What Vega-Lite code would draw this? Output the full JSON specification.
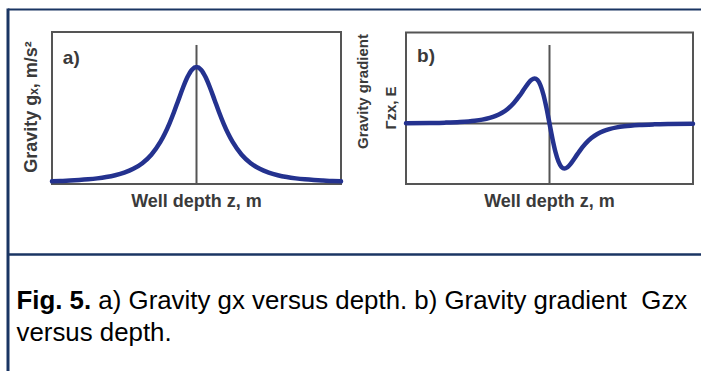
{
  "$schema": "https://vega.github.io/schema/vega-lite/v6.json",
  "width": 701,
  "height": 371,
  "autosize": {"type": "fit", "contains": "padding"},
  "padding": 0,
  "background": "white",
  "config": {"view": {"stroke": null}, "text": {"font": "Liberation Sans"}},
  "datasets": {
    "gx": [
      {"z": -4, "g": 0.0143}, {"z": -3.75, "g": 0.0171}, {"z": -3.5, "g": 0.0207}, {"z": -3.25, "g": 0.0254},
      {"z": -3, "g": 0.0316}, {"z": -2.75, "g": 0.0399}, {"z": -2.5, "g": 0.0512}, {"z": -2.25, "g": 0.067},
      {"z": -2, "g": 0.0894}, {"z": -1.75, "g": 0.122}, {"z": -1.5, "g": 0.171}, {"z": -1.25, "g": 0.244},
      {"z": -1, "g": 0.354}, {"z": -0.875, "g": 0.426}, {"z": -0.75, "g": 0.512}, {"z": -0.625, "g": 0.61},
      {"z": -0.5, "g": 0.716}, {"z": -0.375, "g": 0.821}, {"z": -0.25, "g": 0.913}, {"z": -0.125, "g": 0.977},
      {"z": 0, "g": 1},
      {"z": 0.125, "g": 0.977}, {"z": 0.25, "g": 0.913}, {"z": 0.375, "g": 0.821}, {"z": 0.5, "g": 0.716},
      {"z": 0.625, "g": 0.61}, {"z": 0.75, "g": 0.512}, {"z": 0.875, "g": 0.426}, {"z": 1, "g": 0.354},
      {"z": 1.25, "g": 0.244}, {"z": 1.5, "g": 0.171}, {"z": 1.75, "g": 0.122}, {"z": 2, "g": 0.0894},
      {"z": 2.25, "g": 0.067}, {"z": 2.5, "g": 0.0512}, {"z": 2.75, "g": 0.0399}, {"z": 3, "g": 0.0316},
      {"z": 3.25, "g": 0.0254}, {"z": 3.5, "g": 0.0207}, {"z": 3.75, "g": 0.0171}, {"z": 4, "g": 0.0143}
    ],
    "gzx": [
      {"z": -4.8, "v": 0.0059}, {"z": -4, "v": 0.0117}, {"z": -3.5, "v": 0.0191}, {"z": -3, "v": 0.0331},
      {"z": -2.5, "v": 0.0617}, {"z": -2.25, "v": 0.0869}, {"z": -2, "v": 0.125}, {"z": -1.8, "v": 0.17},
      {"z": -1.6, "v": 0.234}, {"z": -1.4, "v": 0.324}, {"z": -1.2, "v": 0.451}, {"z": -1, "v": 0.618},
      {"z": -0.9, "v": 0.7135}, {"z": -0.8, "v": 0.811}, {"z": -0.7, "v": 0.903}, {"z": -0.6, "v": 0.971},
      {"z": -0.5, "v": 1}, {"z": -0.4, "v": 0.965}, {"z": -0.3, "v": 0.845}, {"z": -0.2, "v": 0.634},
      {"z": -0.1, "v": 0.341}, {"z": 0, "v": 0},
      {"z": 0.1, "v": -0.341}, {"z": 0.2, "v": -0.634}, {"z": 0.3, "v": -0.845}, {"z": 0.4, "v": -0.965},
      {"z": 0.5, "v": -1}, {"z": 0.6, "v": -0.971}, {"z": 0.7, "v": -0.903}, {"z": 0.8, "v": -0.811},
      {"z": 0.9, "v": -0.7135}, {"z": 1, "v": -0.618}, {"z": 1.2, "v": -0.451}, {"z": 1.4, "v": -0.324},
      {"z": 1.6, "v": -0.234}, {"z": 1.8, "v": -0.17}, {"z": 2, "v": -0.125}, {"z": 2.25, "v": -0.0869},
      {"z": 2.5, "v": -0.0617}, {"z": 3, "v": -0.0331}, {"z": 3.5, "v": -0.0191}, {"z": 4, "v": -0.0117},
      {"z": 4.8, "v": -0.0059}
    ]
  },
  "layer": [
    {
      "data": {"values": [{}]},
      "layer": [
        {
          "mark": {"type": "rule", "color": "#1a3563", "strokeWidth": 3},
          "encoding": {
            "x": {"datum": 0, "type": "quantitative", "scale": {"domain": [0, 1], "range": [8, 701], "nice": false, "zero": false}, "axis": null},
            "y": {"datum": 0, "type": "quantitative", "scale": {"domain": [0, 1], "range": [371, 8.5], "nice": false, "zero": false}, "axis": null},
            "y2": {"datum": 1}
          }
        },
        {
          "mark": {"type": "rule", "color": "#1a3563", "strokeWidth": 2},
          "encoding": {
            "x": {"datum": 0, "type": "quantitative", "scale": {"domain": [0, 1], "range": [8, 701], "nice": false, "zero": false}, "axis": null},
            "x2": {"datum": 1},
            "y": {"datum": 0.99724, "type": "quantitative", "scale": {"domain": [0, 1], "range": [371, 8.5], "nice": false, "zero": false}, "axis": null}
          }
        },
        {
          "mark": {"type": "rule", "color": "#1a3563", "strokeWidth": 2.5},
          "encoding": {
            "x": {"datum": 0, "type": "quantitative", "scale": {"domain": [0, 1], "range": [8, 701], "nice": false, "zero": false}, "axis": null},
            "x2": {"datum": 1},
            "y": {"datum": 0.3214, "type": "quantitative", "scale": {"domain": [0, 1], "range": [371, 8.5], "nice": false, "zero": false}, "axis": null}
          }
        },
        {
          "mark": {"type": "text", "text": "Fig. 5.", "fontWeight": "bold", "fontSize": 25.85, "align": "left", "baseline": "alphabetic", "color": "#000000"},
          "encoding": {
            "x": {"datum": 0.01227, "type": "quantitative", "scale": {"domain": [0, 1], "range": [8, 701], "nice": false, "zero": false}, "axis": null},
            "y": {"datum": 0.171, "type": "quantitative", "scale": {"domain": [0, 1], "range": [371, 8.5], "nice": false, "zero": false}, "axis": null}
          }
        },
        {
          "mark": {"type": "text", "text": "a) Gravity gx versus depth. b) Gravity gradient\u00a0 Gzx", "fontSize": 25.85, "align": "left", "baseline": "alphabetic", "color": "#000000"},
          "encoding": {
            "x": {"datum": 0.1304, "type": "quantitative", "scale": {"domain": [0, 1], "range": [8, 701], "nice": false, "zero": false}, "axis": null},
            "y": {"datum": 0.171, "type": "quantitative", "scale": {"domain": [0, 1], "range": [371, 8.5], "nice": false, "zero": false}, "axis": null}
          }
        },
        {
          "mark": {"type": "text", "text": "versus depth.", "fontSize": 25.85, "align": "left", "baseline": "alphabetic", "color": "#000000"},
          "encoding": {
            "x": {"datum": 0.01227, "type": "quantitative", "scale": {"domain": [0, 1], "range": [8, 701], "nice": false, "zero": false}, "axis": null},
            "y": {"datum": 0.0836, "type": "quantitative", "scale": {"domain": [0, 1], "range": [371, 8.5], "nice": false, "zero": false}, "axis": null}
          }
        }
      ]
    },
    {
      "layer": [
        {
          "data": {"values": [{}]},
          "mark": {"type": "rect", "fillOpacity": 0, "stroke": "#555555", "strokeWidth": 2},
          "encoding": {
            "x": {"datum": -4, "type": "quantitative", "scale": {"domain": [-4, 4], "range": [52, 341], "nice": false, "zero": false}, "axis": null},
            "x2": {"datum": 4},
            "y": {"datum": -0.009, "type": "quantitative", "scale": {"domain": [0, 1], "range": [183, 67], "nice": false, "zero": false}, "axis": null},
            "y2": {"datum": 1.302}
          }
        },
        {
          "data": {"values": [{}]},
          "mark": {"type": "rule", "color": "#555555", "strokeWidth": 2},
          "encoding": {
            "x": {"datum": 0, "type": "quantitative", "scale": {"domain": [-4, 4], "range": [52, 341], "nice": false, "zero": false}, "axis": null},
            "y": {"datum": -0.009, "type": "quantitative", "scale": {"domain": [0, 1], "range": [183, 67], "nice": false, "zero": false}, "axis": null},
            "y2": {"datum": 1.19}
          }
        },
        {
          "data": {"name": "gx"},
          "mark": {"type": "line", "color": "#24328f", "strokeWidth": 4.5, "interpolate": "monotone", "strokeCap": "round"},
          "encoding": {
            "x": {"field": "z", "type": "quantitative", "scale": {"domain": [-4, 4], "range": [52, 341], "nice": false, "zero": false}, "axis": null},
            "y": {"field": "g", "type": "quantitative", "scale": {"domain": [0, 1], "range": [183, 67], "nice": false, "zero": false}, "axis": null}
          }
        },
        {
          "data": {"values": [{}]},
          "mark": {"type": "text", "text": "Gravity gₓ, m/s²", "fontSize": 18, "fontWeight": "bold", "angle": 270, "align": "center", "baseline": "middle", "color": "#3a3a3a"},
          "encoding": {
            "x": {"datum": -4.55, "type": "quantitative", "scale": {"domain": [-4, 4], "range": [52, 341], "nice": false, "zero": false}, "axis": null},
            "y": {"datum": 0.655, "type": "quantitative", "scale": {"domain": [0, 1], "range": [183, 67], "nice": false, "zero": false}, "axis": null}
          }
        },
        {
          "data": {"values": [{}]},
          "mark": {"type": "text", "text": "Well depth z, m", "fontSize": 18, "fontWeight": "bold", "align": "center", "baseline": "middle", "color": "#3a3a3a"},
          "encoding": {
            "x": {"datum": 0, "type": "quantitative", "scale": {"domain": [-4, 4], "range": [52, 341], "nice": false, "zero": false}, "axis": null},
            "y": {"datum": -0.164, "type": "quantitative", "scale": {"domain": [0, 1], "range": [183, 67], "nice": false, "zero": false}, "axis": null}
          }
        },
        {
          "data": {"values": [{}]},
          "mark": {"type": "text", "text": "a)", "fontSize": 19, "fontWeight": "bold", "align": "left", "baseline": "middle", "color": "#3a3a3a"},
          "encoding": {
            "x": {"datum": -3.7, "type": "quantitative", "scale": {"domain": [-4, 4], "range": [52, 341], "nice": false, "zero": false}, "axis": null},
            "y": {"datum": 1.078, "type": "quantitative", "scale": {"domain": [0, 1], "range": [183, 67], "nice": false, "zero": false}, "axis": null}
          }
        }
      ]
    },
    {
      "layer": [
        {
          "data": {"values": [{}]},
          "mark": {"type": "rect", "fillOpacity": 0, "stroke": "#555555", "strokeWidth": 2},
          "encoding": {
            "x": {"datum": -4.8, "type": "quantitative", "scale": {"domain": [-4.8, 4.8], "range": [406, 693], "nice": false, "zero": false}, "axis": null},
            "x2": {"datum": 4.8},
            "y": {"datum": -1.344, "type": "quantitative", "scale": {"domain": [0, 1], "range": [123.5, 78.5], "nice": false, "zero": false}, "axis": null},
            "y2": {"datum": 2.022}
          }
        },
        {
          "data": {"values": [{}]},
          "mark": {"type": "rule", "color": "#555555", "strokeWidth": 2},
          "encoding": {
            "x": {"datum": 0, "type": "quantitative", "scale": {"domain": [-4.8, 4.8], "range": [406, 693], "nice": false, "zero": false}, "axis": null},
            "y": {"datum": -1.344, "type": "quantitative", "scale": {"domain": [0, 1], "range": [123.5, 78.5], "nice": false, "zero": false}, "axis": null},
            "y2": {"datum": 1.744}
          }
        },
        {
          "data": {"values": [{}]},
          "mark": {"type": "rule", "color": "#555555", "strokeWidth": 2},
          "encoding": {
            "x": {"datum": -4.8, "type": "quantitative", "scale": {"domain": [-4.8, 4.8], "range": [406, 693], "nice": false, "zero": false}, "axis": null},
            "x2": {"datum": 4.8},
            "y": {"datum": 0, "type": "quantitative", "scale": {"domain": [0, 1], "range": [123.5, 78.5], "nice": false, "zero": false}, "axis": null}
          }
        },
        {
          "data": {"name": "gzx"},
          "mark": {"type": "line", "color": "#24328f", "strokeWidth": 4.5, "interpolate": "monotone", "strokeCap": "round"},
          "encoding": {
            "x": {"field": "z", "type": "quantitative", "scale": {"domain": [-4.8, 4.8], "range": [406, 693], "nice": false, "zero": false}, "axis": null},
            "y": {"field": "v", "type": "quantitative", "scale": {"domain": [0, 1], "range": [123.5, 78.5], "nice": false, "zero": false}, "axis": null}
          }
        },
        {
          "data": {"values": [{}]},
          "mark": {"type": "text", "text": "Gravity gradient", "fontSize": 15, "fontWeight": "bold", "angle": 270, "align": "center", "baseline": "middle", "color": "#3a3a3a"},
          "encoding": {
            "x": {"datum": -6.237, "type": "quantitative", "scale": {"domain": [-4.8, 4.8], "range": [406, 693], "nice": false, "zero": false}, "axis": null},
            "y": {"datum": 0.711, "type": "quantitative", "scale": {"domain": [0, 1], "range": [123.5, 78.5], "nice": false, "zero": false}, "axis": null}
          }
        },
        {
          "data": {"values": [{}]},
          "mark": {"type": "text", "text": "Γzx, E", "fontSize": 15, "fontWeight": "bold", "angle": 270, "align": "center", "baseline": "middle", "color": "#3a3a3a"},
          "encoding": {
            "x": {"datum": -5.301, "type": "quantitative", "scale": {"domain": [-4.8, 4.8], "range": [406, 693], "nice": false, "zero": false}, "axis": null},
            "y": {"datum": 0.344, "type": "quantitative", "scale": {"domain": [0, 1], "range": [123.5, 78.5], "nice": false, "zero": false}, "axis": null}
          }
        },
        {
          "data": {"values": [{}]},
          "mark": {"type": "text", "text": "Well depth z, m", "fontSize": 18, "fontWeight": "bold", "align": "center", "baseline": "middle", "color": "#3a3a3a"},
          "encoding": {
            "x": {"datum": 0, "type": "quantitative", "scale": {"domain": [-4.8, 4.8], "range": [406, 693], "nice": false, "zero": false}, "axis": null},
            "y": {"datum": -1.744, "type": "quantitative", "scale": {"domain": [0, 1], "range": [123.5, 78.5], "nice": false, "zero": false}, "axis": null}
          }
        },
        {
          "data": {"values": [{}]},
          "mark": {"type": "text", "text": "b)", "fontSize": 19, "fontWeight": "bold", "align": "left", "baseline": "middle", "color": "#3a3a3a"},
          "encoding": {
            "x": {"datum": -4.431, "type": "quantitative", "scale": {"domain": [-4.8, 4.8], "range": [406, 693], "nice": false, "zero": false}, "axis": null},
            "y": {"datum": 1.5, "type": "quantitative", "scale": {"domain": [0, 1], "range": [123.5, 78.5], "nice": false, "zero": false}, "axis": null}
          }
        }
      ],
      "resolve": {"scale": {"x": "shared", "y": "shared"}}
    }
  ],
  "resolve": {"scale": {"x": "independent", "y": "independent"}}
}
